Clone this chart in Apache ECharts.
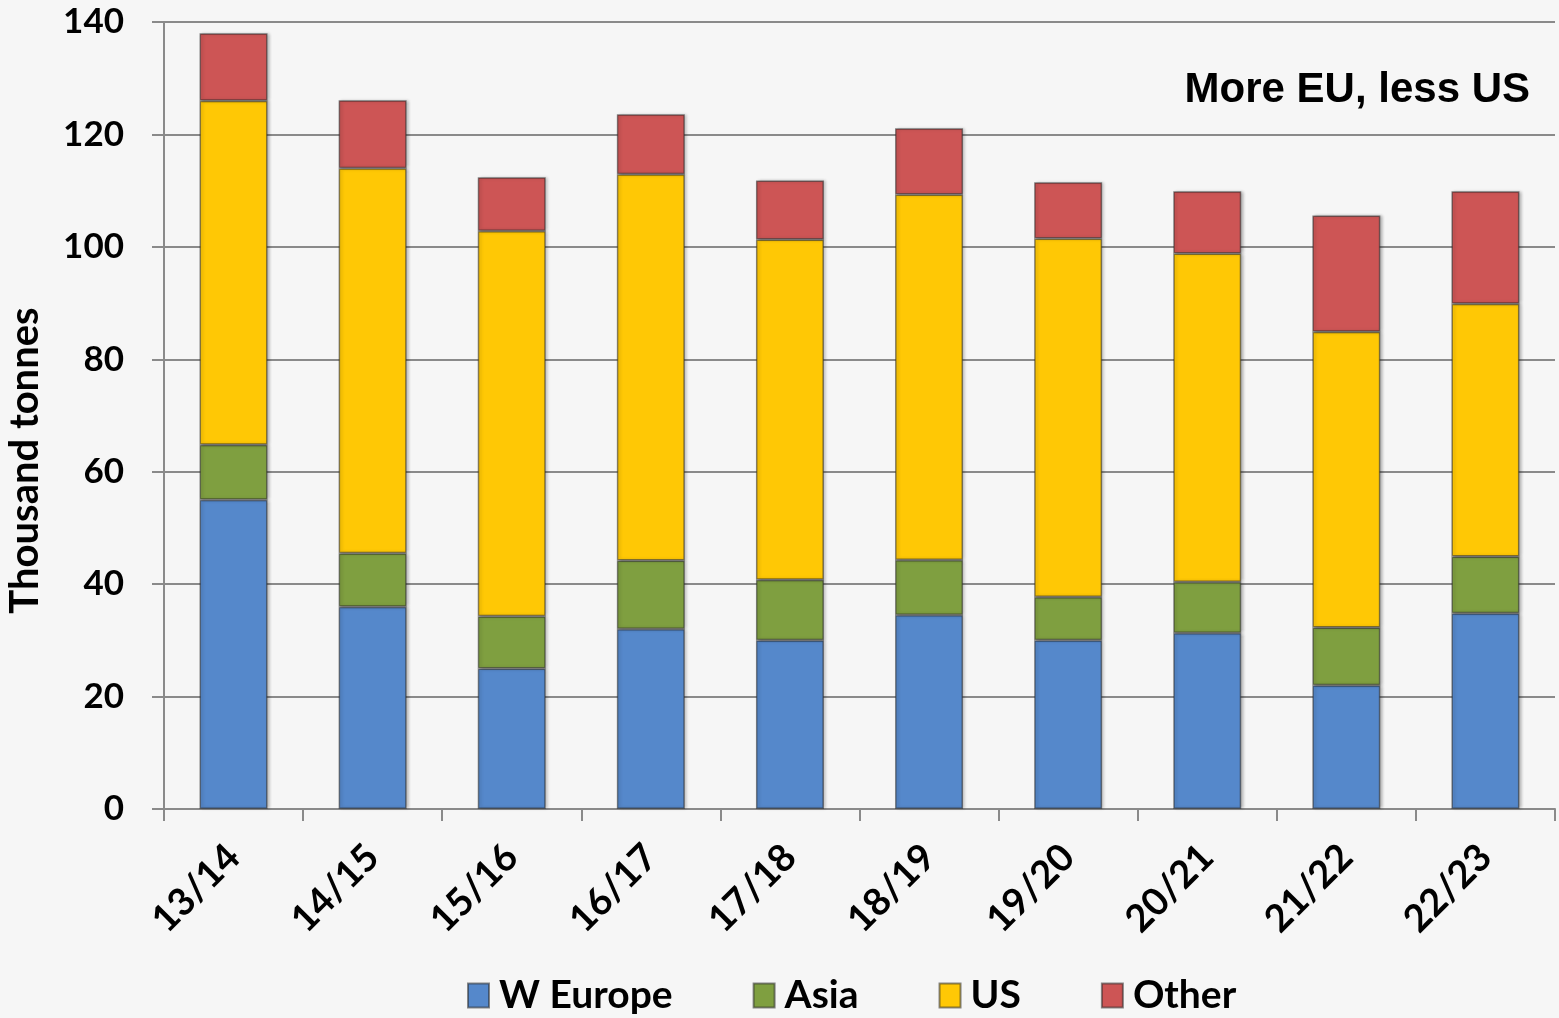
<!DOCTYPE html>
<html>
<head>
<meta charset="utf-8">
<script src="https://cdn.jsdelivr.net/npm/echarts@6/dist/echarts.min.js"></script>
<style>
  html, body { margin: 0; padding: 0; background: #f6f6f6; }
  #chart { width: 1559px; height: 1018px; }
</style>
</head>
<body>
<div id="chart"></div>
<script>
// data (thousand tonnes)
var seasons = ['13/14', '14/15', '15/16', '16/17', '17/18', '18/19', '19/20', '20/21', '21/22', '22/23'];
var wEurope = [55, 36, 25, 32, 30, 34.5, 30, 31.3, 22, 34.8];
var asia = [9.8, 9.5, 9.3, 12.2, 10.8, 9.8, 7.7, 9.1, 10.3, 10.1];
var us = [61.2, 68.5, 68.5, 68.7, 60.5, 65, 63.8, 58.4, 52.6, 45];
var other = [12, 12.1, 9.6, 10.7, 10.5, 11.8, 10, 11.1, 20.7, 20];
var yTicks = { min: 0, max: 140, interval: 20 };

var font = 'Lato, "Open Sans", sans-serif';

var myChart = echarts.init(document.getElementById('chart'));

function barSeries(name, data, color) {
  return {
    name: name,
    type: 'bar',
    stack: 'total',
    data: data,
    barWidth: 68,
    itemStyle: {
      color: color,
      borderColor: 'rgba(40,40,40,0.55)',
      borderWidth: 1.5,
      shadowColor: 'rgba(0,0,0,0.25)',
      shadowBlur: 3,
      shadowOffsetX: 2
    }
  };
}

var option = {
  backgroundColor: '#f6f6f6',
  animation: false,
  title: {
    text: 'More EU, less US',
    right: 24,
    top: 64,
    textStyle: {
      fontFamily: '"Liberation Sans", Arial, sans-serif',
      fontSize: 42,
      fontWeight: 'bold',
      color: '#000'
    }
  },
  legend: {
    bottom: -2,
    left: 462,
    itemWidth: 21,
    itemHeight: 24,
    itemGap: 80,
    icon: 'rect',
    textStyle: { fontFamily: font, fontSize: 39, fontWeight: 'bold', color: '#000', padding: [0, 0, 0, 5] },
    data: ['W Europe', 'Asia', 'US', 'Other']
  },
  grid: { left: 164, right: 4, top: 22, bottom: 209, outerBoundsMode: 'none' },
  xAxis: {
    type: 'category',
    data: seasons,
    axisLine: { lineStyle: { color: '#8a8a8a', width: 2 } },
    axisTick: { show: true, length: 12, lineStyle: { color: '#8a8a8a', width: 2 } },
    axisLabel: {
      rotate: 45,
      margin: 42,
      fontFamily: font,
      fontSize: 38,
      fontWeight: 'bold',
      color: '#000'
    }
  },
  yAxis: {
    type: 'value',
    min: yTicks.min,
    max: yTicks.max,
    interval: yTicks.interval,
    name: 'Thousand tonnes',
    nameLocation: 'middle',
    nameGap: 119,
    nameTextStyle: { fontFamily: font, fontSize: 40, fontWeight: 'bold', color: '#000', padding: [0, 90, 0, 0] },
    axisLine: { show: true, lineStyle: { color: '#8a8a8a', width: 2 } },
    axisTick: { show: true, length: 12, lineStyle: { color: '#8a8a8a', width: 2 } },
    splitLine: { lineStyle: { color: '#8a8a8a', width: 2 } },
    axisLabel: {
      margin: 40,
      fontFamily: font,
      fontSize: 35,
      fontWeight: 'bold',
      color: '#000'
    }
  },
  series: [
    barSeries('W Europe', wEurope, '#5588cb'),
    barSeries('Asia', asia, '#7f9f40'),
    barSeries('US', us, '#ffc805'),
    barSeries('Other', other, '#cd5555')
  ]
};

myChart.setOption(option);
</script>
</body>
</html>
